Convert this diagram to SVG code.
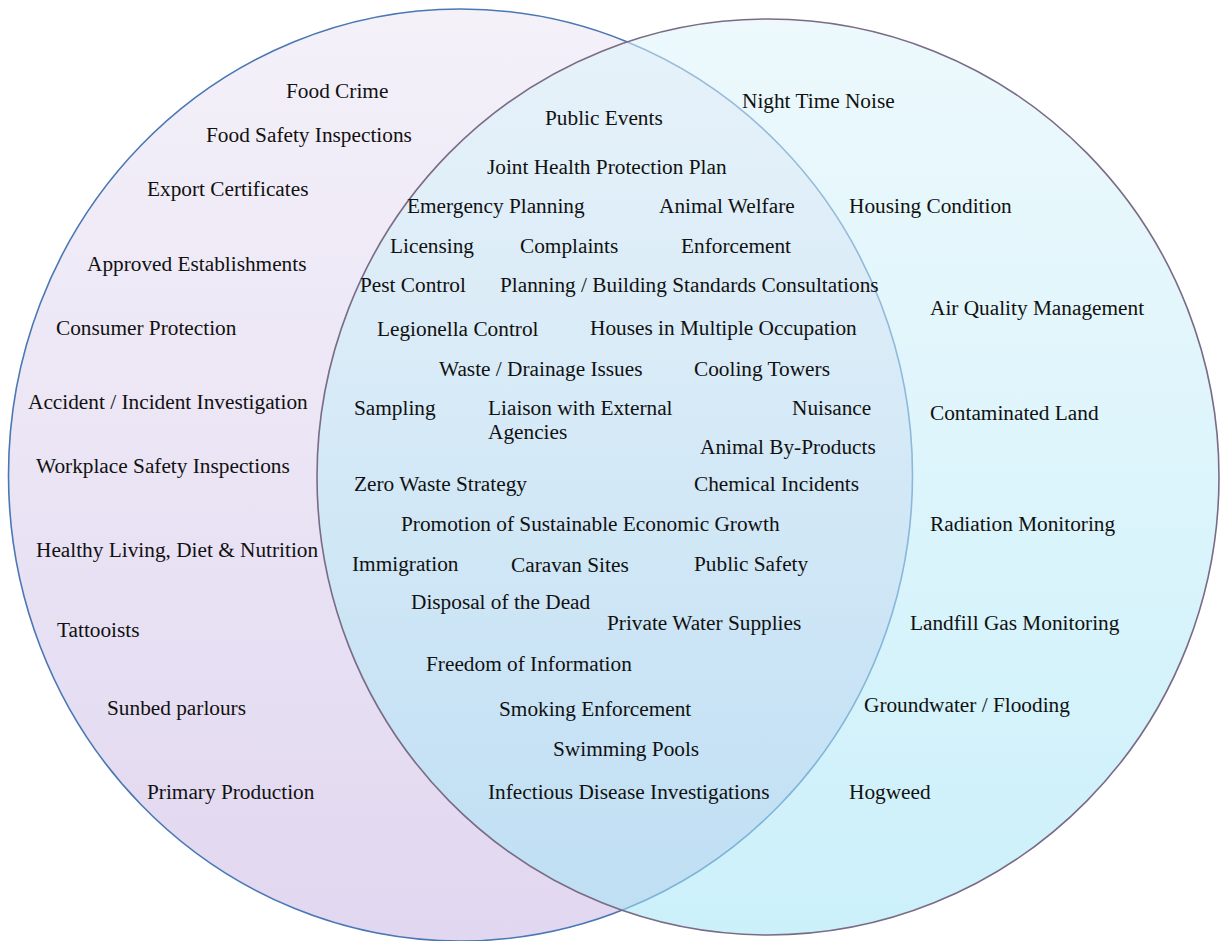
<svg xmlns="http://www.w3.org/2000/svg" width="1220" height="941" viewBox="0 0 1220 941">
<defs>
<linearGradient id="gL" x1="0" y1="0" x2="0" y2="1">
<stop offset="0" stop-color="#f4f1f9"/>
<stop offset="1" stop-color="#e1d7f0"/>
</linearGradient>
<linearGradient id="gR" x1="0" y1="0" x2="0" y2="1">
<stop offset="0" stop-color="#def4fa" stop-opacity="0.55"/>
<stop offset="1" stop-color="#a2e4f6" stop-opacity="0.55"/>
</linearGradient>
<style>
text{font-family:"Liberation Serif","Times New Roman",serif;font-size:21.3px;fill:#111}
</style>
</defs>
<rect width="1220" height="941" fill="#ffffff"/>
<g id="set-left">
<ellipse cx="460.5" cy="475" rx="452" ry="466" fill="url(#gL)" stroke="#4a78b4" stroke-width="1.6"/>
</g>
<g id="set-right">
<ellipse cx="768" cy="477" rx="451" ry="458" fill="url(#gR)" stroke="#7a6b86" stroke-width="1.6"/>
</g>
<g id="connectors"></g>
<g id="labels-left">
<text x="286" y="98">Food Crime</text>
<text x="206" y="142">Food Safety Inspections</text>
<text x="147" y="196">Export Certificates</text>
<text x="87" y="271">Approved Establishments</text>
<text x="56" y="335">Consumer Protection</text>
<text x="28" y="409">Accident / Incident Investigation</text>
<text x="36" y="473">Workplace Safety Inspections</text>
<text x="36" y="557">Healthy Living, Diet &amp; Nutrition</text>
<text x="57" y="637">Tattooists</text>
<text x="107" y="715">Sunbed parlours</text>
<text x="147" y="799">Primary Production</text>
</g>
<g id="labels-center">
<text x="545" y="125">Public Events</text>
<text x="487" y="174">Joint Health Protection Plan</text>
<text x="407" y="213">Emergency Planning</text>
<text x="659" y="213">Animal Welfare</text>
<text x="390" y="253">Licensing</text>
<text x="520" y="253">Complaints</text>
<text x="681" y="253">Enforcement</text>
<text x="360" y="292">Pest Control</text>
<text x="500" y="292">Planning / Building Standards Consultations</text>
<text x="377" y="336">Legionella Control</text>
<text x="590" y="335">Houses in Multiple Occupation</text>
<text x="439" y="376">Waste / Drainage Issues</text>
<text x="694" y="376">Cooling Towers</text>
<text x="354" y="415">Sampling</text>
<text x="488" y="415">Liaison with External</text>
<text x="488" y="439">Agencies</text>
<text x="792" y="415">Nuisance</text>
<text x="700" y="454">Animal By-Products</text>
<text x="354" y="491">Zero Waste Strategy</text>
<text x="694" y="491">Chemical Incidents</text>
<text x="401" y="531">Promotion of Sustainable Economic Growth</text>
<text x="352" y="571">Immigration</text>
<text x="511" y="572">Caravan Sites</text>
<text x="694" y="571">Public Safety</text>
<text x="411" y="609">Disposal of the Dead</text>
<text x="607" y="630">Private Water Supplies</text>
<text x="426" y="671">Freedom of Information</text>
<text x="499" y="716">Smoking Enforcement</text>
<text x="553" y="756">Swimming Pools</text>
<text x="488" y="799">Infectious Disease Investigations</text>
</g>
<g id="labels-right">
<text x="742" y="108">Night Time Noise</text>
<text x="849" y="213">Housing Condition</text>
<text x="930" y="315">Air Quality Management</text>
<text x="930" y="420">Contaminated Land</text>
<text x="930" y="531">Radiation Monitoring</text>
<text x="910" y="630">Landfill Gas Monitoring</text>
<text x="864" y="712">Groundwater / Flooding</text>
<text x="849" y="799">Hogweed</text>
</g>
</svg>
